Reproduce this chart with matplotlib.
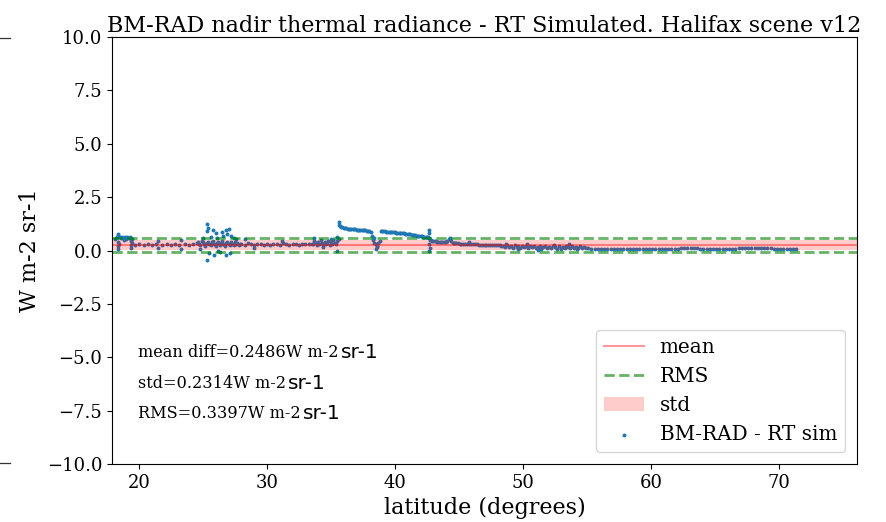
import matplotlib
matplotlib.use("Agg")
import matplotlib.pyplot as plt
from matplotlib.lines import Line2D
import numpy as np

plt.rcParams['font.family'] = ['DejaVu Serif']

# ---- data ----
lat_a = [18.1, 18.2, 18.3, 18.35, 18.4, 18.5, 18.6, 18.7, 18.8, 18.9, 19.0, 19.1, 19.2, 19.3, 19.4, 19.45,
         18.35, 18.4, 18.4, 18.45, 19.35, 19.4, 19.4, 19.45, 18.8, 19.0]
val_a = [0.55, 0.6, 0.65, 0.75, 0.7, 0.62, 0.6, 0.63, 0.6, 0.62, 0.6, 0.63, 0.6, 0.62, 0.58, 0.55,
         0.4, 0.2, 0.05, 0.3, 0.45, 0.25, 0.1, 0.35, 0.5, 0.52]

lat_b = [19.7, 20.0, 20.4, 20.7, 21.0, 21.3, 21.5, 21.5, 21.8, 22.2, 22.5, 22.8, 23.1, 23.3, 23.3, 23.6, 23.9, 24.2]
val_b = [0.28, 0.3, 0.27, 0.3, 0.25, 0.3, 0.45, 0.1, 0.28, 0.3, 0.26, 0.3, 0.28, 0.5, 0.05, 0.3, 0.27, 0.32]

lat_c = [24.5, 24.6, 24.7, 24.8, 24.9, 25.0, 25.1, 25.2, 25.3, 25.4, 25.5, 25.6, 25.7, 25.8, 25.9, 26.0, 26.1,
         26.2, 26.3, 26.4, 26.5, 26.6, 26.7, 26.8, 26.9, 27.0, 27.1, 27.2, 27.3, 27.4, 27.5, 27.6, 27.7, 27.8, 27.9,
         25.3, 25.4, 25.35, 25.8, 26.0, 26.1, 26.5, 26.6, 26.8, 26.9, 27.0, 27.2, 27.4, 25.3, 25.5, 25.9,
         26.2, 26.8, 27.1, 25.0, 25.6, 26.3, 27.6, 24.8]
val_c = [0.35, 0.4, 0.3, 0.25, 0.45, 0.38, 0.3, 0.2, 0.35, 0.42, 0.3, 0.25, 0.38, 0.45, 0.3, 0.22, 0.35,
         0.4, 0.28, 0.33, 0.45, 0.3, 0.2, 0.36, 0.42, 0.3, 0.25, 0.38, 0.32, 0.28, 0.4, 0.3, 0.35, 0.27, 0.3,
         1.25, 1.05, 0.9, 0.95, 0.8, 0.6, 0.85, 0.7, 0.95, 0.75, 1.0, 0.7, 0.6, -0.45, -0.1, -0.2,
         0.0, -0.2, -0.1, 0.6, 0.65, -0.05, 0.55, 0.05]

lat_d = [28.0, 28.25, 28.5, 28.75, 29.0, 29.25, 29.5, 29.75, 30.0, 30.25, 30.5, 30.75, 31.0, 31.25, 31.5,
         31.75, 32.0, 32.25, 32.5, 32.75, 33.0, 33.25, 33.5, 28.3, 29.0, 31.2]
val_d = [0.3, 0.28, 0.33, 0.3, 0.26, 0.3, 0.32, 0.28, 0.3, 0.27, 0.31, 0.3, 0.28, 0.33, 0.3, 0.27, 0.3,
         0.32, 0.28, 0.3, 0.29, 0.31, 0.3, 0.55, 0.1, 0.45]

lat_e = [33.6, 33.7, 33.8, 33.9, 34.0, 34.1, 34.2, 34.3, 34.4, 34.5, 34.6, 34.7, 34.8, 34.9, 35.0,
         35.1, 35.2, 35.3, 35.4, 35.5, 35.6, 33.7, 34.4, 35.0, 35.5, 35.45]
val_e = [0.3, 0.45, 0.35, 0.25, 0.4, 0.3, 0.5, 0.35, 0.28, 0.42, 0.3, 0.35, 0.45, 0.25, 0.4,
         0.32, 0.5, 0.35, 0.3, 0.45, 0.55, 0.6, 0.15, 0.55, 0.0, 0.65]

lat_f = [35.6, 35.65, 35.7, 35.8, 35.9, 36.0, 36.1, 36.2, 36.3, 36.4, 36.5, 36.6, 36.7, 36.8, 36.9, 37.0,
         37.1, 37.2, 37.3, 37.4, 37.5, 37.6, 37.7, 37.8, 37.9, 38.0, 38.1]
val_f = [1.35, 1.2, 1.15, 1.1, 1.08, 1.06, 1.05, 1.04, 1.03, 1.03, 1.02, 1.01, 1.0, 1.0, 0.99, 0.98,
         0.98, 0.97, 0.97, 0.96, 0.95, 0.95, 0.94, 0.93, 0.92, 0.9, 0.88]

lat_g = [38.2, 38.3, 38.4, 38.5, 38.6, 38.7, 38.8, 38.5, 38.4, 38.6]
val_g = [0.7, 0.5, 0.35, 0.3, 0.2, 0.35, 0.45, 0.05, 0.6, 0.15]

lat_h = [38.9, 39.0, 39.1, 39.2, 39.3, 39.4, 39.5, 39.6, 39.7, 39.8, 39.9, 40.0, 40.1, 40.2, 40.3, 40.4,
         40.5, 40.6, 40.7, 40.8, 40.9, 41.0, 41.1, 41.2, 41.3, 41.4, 41.5, 41.6, 41.7, 41.8, 41.9, 42.0,
         42.1, 42.2, 42.3, 42.4, 42.5, 42.6, 42.7]
val_h = [0.92, 0.91, 0.9, 0.9, 0.89, 0.88, 0.88, 0.87, 0.87, 0.86, 0.85, 0.85, 0.84, 0.83, 0.83, 0.82,
         0.81, 0.8, 0.8, 0.79, 0.78, 0.77, 0.76, 0.75, 0.74, 0.73, 0.72, 0.71, 0.7, 0.69, 0.68, 0.67,
         0.66, 0.65, 0.64, 0.63, 0.62, 0.61, 0.6]

lat_i = [42.7, 42.7, 42.72, 42.7, 42.72, 42.7]
val_i = [0.95, 0.8, 0.5, 0.3, 0.1, 0.0]

lat_j = [42.8, 42.9, 43.0, 43.1, 43.2, 43.3, 43.4, 43.5, 43.6, 43.7, 43.8, 43.9, 44.0, 44.1, 44.2, 44.3,
         44.4, 44.5, 44.6, 44.7, 44.8]
val_j = [0.48, 0.46, 0.45, 0.44, 0.43, 0.42, 0.42, 0.41, 0.4, 0.4, 0.39, 0.38, 0.38, 0.45, 0.55, 0.58,
         0.45, 0.37, 0.36, 0.35, 0.34]

lat_k = [44.9, 45.05, 45.2, 45.35, 45.5, 45.65, 45.8, 45.95, 46.1, 46.25, 46.4, 46.55, 46.7, 46.85, 47.0,
         47.15, 47.3, 47.45, 47.6, 47.75, 47.9, 48.05, 48.2, 45.8]
val_k = [0.33, 0.32, 0.32, 0.31, 0.31, 0.3, 0.31, 0.3, 0.3, 0.29, 0.29, 0.28, 0.28, 0.28, 0.27,
         0.27, 0.26, 0.26, 0.26, 0.25, 0.25, 0.25, 0.24, 0.42]

lat_l = [48.3, 48.45, 48.6, 48.75, 48.9, 49.05, 49.2, 49.35, 49.5, 49.65, 49.8, 49.95, 50.1, 50.25, 50.4,
         50.55, 50.7, 50.85, 51.0, 51.15, 51.3, 51.45, 51.6, 51.75, 51.9, 52.05, 52.2, 52.35, 52.5, 52.65,
         52.8, 52.95, 53.1, 53.25, 53.4, 53.55, 53.7, 53.85, 54.0, 54.15, 54.3, 54.45, 54.6, 54.75, 54.9,
         48.7, 49.6, 50.3, 51.2, 52.4, 53.0, 53.6, 54.2]
val_l = [0.22, 0.2, 0.18, 0.24, 0.15, 0.2, 0.12, 0.25, 0.18, 0.22, 0.1, 0.2, 0.17, 0.23, 0.12, 0.2, 0.15,
         0.22, 0.1, 0.18, 0.2, 0.08, 0.15, 0.22, 0.12, 0.18, 0.1, 0.2, 0.15, 0.08, 0.2, 0.12, 0.18, 0.1,
         0.22, 0.15, 0.12, 0.2, 0.1, 0.18, 0.14, 0.2, 0.12, 0.16, 0.1,
         0.32, 0.05, 0.3, 0.04, 0.28, 0.05, 0.3, 0.06]

lat_m = [55.1, 55.35, 55.6, 55.85, 56.1, 56.35, 56.6, 56.85, 57.1, 57.35, 57.6, 57.85, 58.1, 58.35, 58.6,
         58.85, 59.1, 59.35, 59.6, 59.85, 60.1, 60.35, 60.6, 60.85, 61.1, 61.35, 61.6, 61.85, 62.1, 62.35,
         62.6, 62.85, 63.1, 63.35, 63.6, 63.85, 64.1, 64.35, 64.6, 64.85, 65.1, 65.35, 65.6, 65.85, 66.1,
         66.35, 66.6, 66.85, 67.1, 67.35, 67.6, 67.85, 68.1, 68.35, 68.6, 68.85, 69.1, 69.35, 69.6, 69.85,
         70.1, 70.35, 70.6, 70.85, 71.1, 71.3]
val_m = [0.1, 0.09, 0.09, 0.08, 0.08, 0.08, 0.07, 0.07, 0.07, 0.06, 0.06, 0.06, 0.06, 0.05, 0.05,
         0.05, 0.05, 0.05, 0.05, 0.05, 0.06, 0.06, 0.06, 0.07, 0.07, 0.08, 0.08, 0.09, 0.09, 0.1,
         0.1, 0.1, 0.1, 0.1, 0.1, 0.09, 0.09, 0.09, 0.08, 0.08, 0.08, 0.08, 0.08, 0.09, 0.09,
         0.09, 0.09, 0.1, 0.1, 0.1, 0.1, 0.1, 0.1, 0.1, 0.1, 0.1, 0.1, 0.1, 0.09, 0.09,
         0.09, 0.09, 0.09, 0.09, 0.08, 0.08]

mean_diff = 0.2486
std_diff = 0.2314
rms_diff = 0.3397

lat_all = lat_a + lat_b + lat_c + lat_d + lat_e + lat_f + lat_g + lat_h + lat_i + lat_j + lat_k + lat_l + lat_m
val_all = val_a + val_b + val_c + val_d + val_e + val_f + val_g + val_h + val_i + val_j + val_k + val_l + val_m
assert len(lat_all) == len(val_all), (len(lat_all), len(val_all))

fig = plt.figure(figsize=(8.87, 5.22), dpi=100)
ax = fig.add_axes([0.1263, 0.1111, 0.8399, 0.818])

sc = ax.scatter(lat_all, val_all, s=8, color='#1f77b4', linewidths=0, label='BM-RAD - RT sim')
xlo, xhi = 17.9, 76.1
band = ax.fill_between([xlo, xhi], mean_diff - std_diff, mean_diff + std_diff, color='r', alpha=0.2,
                       linewidth=0, label='std')
mline = ax.axhline(mean_diff, color='r', alpha=0.4, lw=1.5, label='mean')
r1 = ax.axhline(mean_diff + rms_diff, color='g', alpha=0.6, lw=2, ls='--', label='RMS')
ax.axhline(mean_diff - rms_diff, color='g', alpha=0.6, lw=2, ls='--')

ax.set_xlim(xlo, xhi)
ax.set_ylim(-10, 10)
ax.set_yticks(np.arange(-10, 10.1, 2.5))
ax.tick_params(labelsize=13)
ax.set_xlabel('latitude (degrees)', fontsize=16)
ax.set_ylabel('W m-2 sr-1', fontsize=16)
ax.set_title('BM-RAD nadir thermal radiance - RT Simulated. Halifax scene v12', fontsize=16, pad=3)

for y, s in [(-4.8, 'mean diff=%.4fW m-2' % mean_diff),
             (-6.25, 'std=%.4fW m-2' % std_diff),
             (-7.65, 'RMS=%.4fW m-2' % rms_diff)]:
    t = ax.text(19.9, y, s, fontsize=11.6, va='center', ha='left')
    ax.annotate('sr-1', xy=(1, 0.5), xycoords=t, xytext=(2, 0), textcoords='offset points',
                va='center', ha='left', fontsize=14.5, family='DejaVu Sans')

ax.legend(handles=[mline, r1, band, sc], loc='lower right', fontsize=14.4, markerscale=1.0,
          borderaxespad=0.6)

for yy in [38, 463]:
    fig.add_artist(Line2D([0, 10 / 887], [1 - yy / 522] * 2, color='#333333', lw=0.9,
                          transform=fig.transFigure))

fig.savefig('out.png', dpi=100)
